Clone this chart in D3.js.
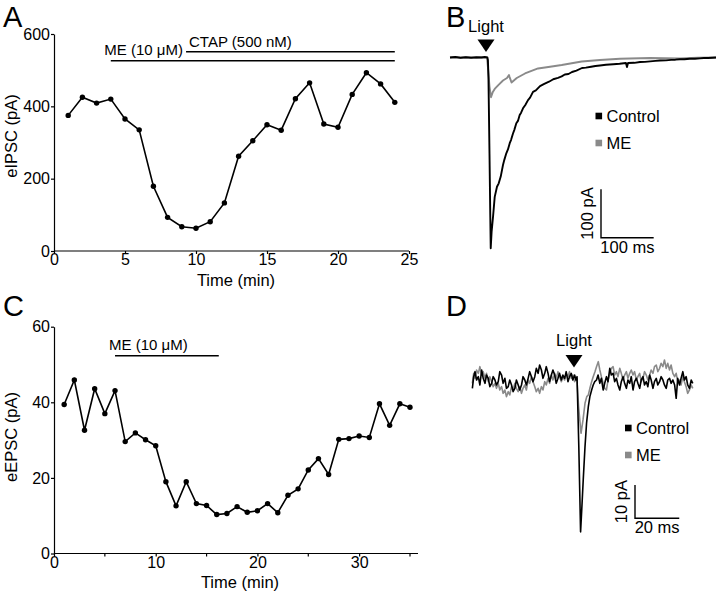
<!DOCTYPE html>
<html><head><meta charset="utf-8">
<script src="https://cdn.jsdelivr.net/npm/d3@7"></script>
<style>
body{margin:0;background:#fff;}
svg{display:block;font-family:"Liberation Sans",Arial,sans-serif;}
.axis path,.axis line{stroke:#000;stroke-width:1.2;}
.axis text{font-size:16px;fill:#000;}
</style></head>
<body>
<svg id="fig" width="720" height="593"></svg>
<script>
// ---------- DATA ----------
// Panel A: eIPSC (pA) vs time (min)
const timeA = [1,2,3,4,5,6,7,8,9,10,11,12,13,14,15,16,17,18,19,20,21,22,23,24];
const eIPSC = [375,425,409,420,365,335,179,93,67,63,81,133,262,305,349,334,421,465,351,342,433,493,462,411];
const ticksAx = [0,5,10,15,20,25];
const ticksAy = [0,200,400,600];
const drugsA = [{label:"ME (10 μM)", start:4, end:24, level:526},
                {label:"CTAP (500 nM)", start:9.3, end:24, level:551}];

// Panel C: eEPSC (pA) vs time (min)
const timeC = [1,2,3,4,5,6,7,8,9,10,11,12,13,14,15,16,17,18,19,20,21,22,23,24,25,26,27,28,29,30,31,32,33,34,35];
const eEPSC = [39.4,45.9,32.6,43.6,37.0,43.1,29.6,31.9,30.1,28.5,19.0,12.6,19.0,13.2,12.7,10.3,10.6,12.4,10.9,11.3,13.2,10.8,15.4,17.1,22.1,25.1,20.9,30.2,30.4,31.1,30.7,39.6,33.9,39.6,38.7];
const ticksCx = [0,10,20,30];
const minorCx = [5,15,25,35];
const ticksCy = [0,20,40,60];
const drugsC = [{label:"ME (10 μM)", start:6, end:16.2, level:52.3}];

// Panel B: eIPSC traces, time (ms) and current (pA)
const traceB_control_t = [0,10,20,30,40,50,60,66,71,72,73,75,76.5,77.3,79,81.7,84.9,89.2,92.5,96.3,100.6,103,106.9,110,113.4,116,119.6,122,125.9,129,132.3,135,138.6,143,148.1,152,157.6,163,170.9,178,188,196,205,212,218,225,231.6,240,250.6,258,268,276,284.8,296,310,322,334,336,338,350,360.7,370,380,390,398.7,410,420,428,436.7,445,455,465,474.7,482,490,498,505];
const traceB_control_i = [0,1,-0.5,0.5,-0.5,0.5,0,1,0,-5,-40,-200,-330,-394,-360,-329,-288,-267,-260,-246,-222,-212,-198,-190,-177,-170,-157,-150,-136,-131,-119,-114,-105,-98,-88,-83,-71,-68,-59,-55,-50,-45,-42,-39,-35,-34,-30,-27,-21.7,-21,-19,-17.5,-16.5,-15,-14,-13,-11.4,-19.6,-11.4,-11,-9.3,-9,-8,-7,-6.2,-6,-5,-4.5,-3.7,-3.5,-2.5,-2.5,-1.7,-1,-1,-0.5,0];
const traceB_me_t = [0,10,20,30,40,50,60,66,70.2,72,75,77.8,81,84.9,91.7,100.6,108.2,111,112,113,116.8,126.7,142.4,167.1,190,212.1,250.1,284.8,322.7,379.7,436.7,470,505];
const traceB_me_i = [0,0.5,-0.5,0.5,0,-0.5,0.5,0,0,-20,-60,-82,-72,-65,-57,-47.5,-42.4,-38,-36.2,-40,-51.7,-42.4,-33,-22.7,-19,-15.5,-8.3,-5.2,-2.7,-1,-2,-0.5,0];
const scaleB = {ms:100, pA:100};

// Panel D: eEPSC traces, time (ms) and current (pA)
const traceD_control_t = [0.3,0.9,1.5,2.2,3,3.7,4.5,5.2,6,6.7,7.5,8.2,9,9.7,10.5,11.2,12,12.7,13.5,14.2,15,15.7,16.5,17.2,18,18.7,19.5,20.2,21,21.7,22.5,23.2,24,24.7,25.5,26.2,27,27.7,28.5,29.2,30,30.7,31.5,32.2,33,33.7,34.5,35.2,36,36.7,37.5,38.2,39,39.7,40.5,41.2,42,42.7,43.5,44.2,45,45.7,46.5,47.1,47.6,48.4,49.2,49.8,50.4,51.2,51.9,52.7,53.4,54.2,54.9,55.6,56.4,57.1,57.9,58.6,59.4,60.1,60.9,61.6,62.4,63.1,63.9,64.6,65.4,66.1,66.9,67.6,68.4,69.1,69.9,70.6,71.4,72.1,72.9,73.6,74.4,75.1,75.9,76.6,77.4,78.1,78.9,79.6,80.4,81.1,81.9,82.6,83.4,84.1,84.9,85.6,86.4,87.1,87.9,88.6,89.4,90.1,90.9,91.7,92.4,93.1,93.9,94.6,95.4,96.1,96.9,97.6,98.4,99.2,99.9];
const traceD_control_i = [-2.5,1,2.5,0,1,-1.5,3,0.5,-1,1.5,0.5,-2,-1,1,0,-1.5,-0.5,2.5,1.5,-1,0.5,-2.5,-2,0,-1.5,-3.5,-2.5,0,-1.5,-3,-1.5,1,0,-1.5,0.5,2.5,1,-0.5,1,3.5,2,4.5,3,0.5,2,4,2,-0.5,1.5,3,1.5,-1,0.5,2,0,1.5,0.5,2.5,-0.5,1,2,0,1.5,0,1,-20,-45.6,-38,-30,-20,-13,-8,-5,-3,-1.5,-0.5,0,1.5,-1,0.5,-3,-1,1,-0.5,3.5,1.5,2,-0.5,0.5,-1.5,-3,-0.5,1,-1,-2.5,0,-1,1,-3,-0.5,0.5,-1,-2.5,0,1,-1.5,-0.5,-2,1.5,0,-2.5,-0.5,0.5,-1.5,-0.5,1,0,-1.5,-2.5,0,0.5,-1,0,-1.5,-5.5,0.5,-1.5,0.5,2.5,0,1,-1.5,-2.5,0,-1];
const traceD_me_t = [0.3,0.9,1.5,2.2,3,3.7,4.5,5.2,6,6.7,7.5,8.2,9,9.7,10.5,11.2,12,12.7,13.5,14.2,15,15.7,16.5,17.2,18,18.7,19.5,20.2,21,21.7,22.5,23.2,24,24.7,25.5,26.2,27,27.7,28.5,29.2,30,30.7,31.5,32.2,33,33.7,34.5,35.2,36,36.7,37.5,38.2,39,39.7,40.5,41.2,42,42.7,43.5,44.2,45,45.7,46.5,47.5,48.3,49.4,50.3,51.2,52,52.7,53.4,54.2,54.9,55.7,56.4,57.2,57.9,58.6,59.4,60.1,60.9,61.6,62.4,63.1,63.9,64.6,65.4,66.1,66.9,67.6,68.4,69.1,69.9,70.6,71.4,72.1,72.9,73.6,74.4,75.1,75.9,76.6,77.4,78.1,78.9,79.6,80.4,81.1,81.9,82.6,83.4,84.1,84.9,85.6,86.4,87.1,87.9,88.6,89.4,90.1,90.9,91.7,92.4,93.1,93.9,94.6,95.4,96.1,96.9,97.6,98.4,99.2,99.9];
const traceD_me_i = [-1,2,0.5,3,2,4,1.5,2.5,0.5,2,-0.5,1,-0.5,-2,-1,-2.5,-1,-3,-2,-4,-3,-5,-3.5,-4.5,-2,-3,-1,-2.5,-3.5,-2,-4,-2.5,-1.5,-3,0,-1,1,-0.5,-2,-3.5,-2.5,-4,-2,-3,-0.5,-1.5,0.5,-1,1.5,0,2,0.5,2.5,1,-0.5,1,0,2,1,2.5,0.5,1.5,-0.5,0.5,-8,-16,-12,-7,-5,-4.5,-2.5,-0.5,1,2.5,4,5.5,3,1,-1,-2.5,-3,0,2,3.5,4,1.5,2.5,1,3.5,2,0,1.5,2.5,0.5,2,3,1.5,2.5,0,1,2,-0.5,0.5,2.5,1.5,0,1.5,3,2,4,4.5,2.5,3.5,5,4,6,3.5,5,3,4.5,2,1,2,-0.5,0,-1.5,1,-0.5,-2,-4,-3,-1.5,-2.5];
const scaleD = {ms:20, pA:10};

const legendLabels = ["Control","ME"];
const traceColors = {Control:"#000000", ME:"#8a8a8a"};

// ---------- DRAW ----------
const svg = d3.select("#fig");

function panelLetter(t,x,y){
  svg.append("text").attr("x",x).attr("y",y).attr("font-size",29).text(t);
}

function timeCourse(opt){
  const g = svg.append("g");
  const x = d3.scaleLinear().domain(opt.xdom).range(opt.xr);
  const y = d3.scaleLinear().domain(opt.ydom).range(opt.yr);
  const ax = g.append("g").attr("class","axis").attr("transform",`translate(0,${opt.yr[0]})`)
    .call(d3.axisBottom(x).tickValues(opt.xt).tickSize(3).tickPadding(0).tickSizeOuter(0));
  ax.select(".domain").attr("d",`M${opt.xr[0]},0H${opt.xend}`);
  if(opt.minor){
    ax.selectAll(".minor").data(opt.minor).enter().append("line").attr("class","minor")
      .attr("x1",d=>x(d)).attr("x2",d=>x(d)).attr("y1",0).attr("y2",3).attr("stroke","#000").attr("stroke-width",1.2);
  }
  g.append("g").attr("class","axis").attr("transform",`translate(${opt.xr[0]},0)`)
    .call(d3.axisLeft(y).tickValues(opt.yt).tickSize(3).tickPadding(1).tickSizeOuter(0));
  g.append("text").attr("x",opt.xlabX).attr("y",opt.xlabY).attr("text-anchor","middle").attr("font-size",16.5).text("Time (min)");
  g.append("text").attr("transform",`translate(${opt.ylabX},${opt.ylabY}) rotate(-90)`).attr("text-anchor","middle").attr("font-size",16.5).text(opt.ylab);
  const pts = opt.t.map((d,i)=>[d,opt.v[i]]);
  g.append("path").datum(pts).attr("fill","none").attr("stroke","#000").attr("stroke-width",1.6)
    .attr("d",d3.line().x(d=>x(d[0])).y(d=>y(d[1])));
  g.selectAll("circle.pt").data(pts).enter().append("circle").attr("class","pt")
    .attr("cx",d=>x(d[0])).attr("cy",d=>y(d[1])).attr("r",2.7).attr("fill","#000");
  opt.drugs.forEach((dr,i)=>{
    g.append("line").attr("x1",x(dr.start)).attr("x2",x(dr.end)).attr("y1",y(dr.level)).attr("y2",y(dr.level))
      .attr("stroke","#000").attr("stroke-width",1.4);
    const lp = opt.labelPos[i];
    g.append("text").attr("x",lp.x).attr("y",lp.y).attr("text-anchor",lp.anchor).attr("font-size",15).text(dr.label);
  });
}

timeCourse({xdom:[0,25], xr:[54,409], xend:409, ydom:[0,600], yr:[251,34], xt:ticksAx, yt:ticksAy,
  t:timeA, v:eIPSC, ylab:"eIPSC (pA)", ylabX:17, ylabY:136, xlabX:236, xlabY:286, drugs:drugsA,
  labelPos:[{x:183,y:55,anchor:"end"},{x:189,y:47,anchor:"start"}]});
timeCourse({xdom:[0,35], xr:[54,410], xend:418, ydom:[0,60], yr:[553.5,326.7], xt:ticksCx, yt:ticksCy, minor:minorCx,
  t:timeC, v:eEPSC, ylab:"eEPSC (pA)", ylabX:17, ylabY:437, xlabX:240, xlabY:588, drugs:drugsC,
  labelPos:[{x:109,y:350,anchor:"start"}]});

panelLetter("A",3,27);
panelLetter("B",446,27);
panelLetter("C",3,316);
panelLetter("D",446,316);

function tracePanel(opt){
  const g = svg.append("g");
  const x = d3.scaleLinear().domain(opt.xdom).range(opt.xr);
  const y = d3.scaleLinear().domain([0,-opt.ybar]).range([opt.y0, opt.y0 + opt.ybarPx]);
  const line = d3.line().x(d=>x(d[0])).y(d=>y(d[1]));
  opt.traces.forEach(tr=>{
    const pts = tr.t.map((d,i)=>[d,tr.i[i]]);
    g.append("path").datum(pts).attr("fill","none").attr("stroke",traceColors[tr.name])
      .attr("stroke-width",opt.lw).attr("stroke-linejoin","round").attr("d",line);
  });
  const lx = opt.lightX;
  g.append("text").attr("x",lx).attr("y",opt.lightTextY).attr("text-anchor","middle").attr("font-size",16.5).text("Light");
  g.append("path").attr("d",`M${lx-8.5},${opt.triTop}L${lx+8.5},${opt.triTop}L${lx},${opt.triTop+12.5}Z`).attr("fill","#000");
  legendLabels.forEach((lab,i)=>{
    const ly = opt.legY + i*opt.legDy;
    g.append("rect").attr("x",opt.legX).attr("y",ly-3.3).attr("width",6.6).attr("height",6.6).attr("fill",traceColors[lab]);
    g.append("text").attr("x",opt.legX+11).attr("y",ly+6).attr("font-size",16.5).text(lab);
  });
  const sbx = opt.sbX, sby = opt.sbY;
  const wpx = x(opt.xdom[0]+opt.sbMs)-x(opt.xdom[0]);
  const hpx = y(-opt.sbPa)-y(0);
  g.append("path").attr("d",`M${sbx},${sby-hpx}V${sby}H${sbx+wpx}`).attr("fill","none").attr("stroke","#000").attr("stroke-width",1.4);
  g.append("text").attr("transform",`translate(${sbx-8},${sby-hpx/2}) rotate(-90)`).attr("text-anchor","middle").attr("font-size",16.5).text(opt.sbPa+" pA");
  g.append("text").attr("x",sbx+wpx/2).attr("y",sby+15).attr("text-anchor","middle").attr("font-size",16.5).text(opt.sbMs+" ms");
}

tracePanel({xdom:[0,505], xr:[450,716], y0:57.5, ybar:400, ybarPx:193.6, lw:1.9,
  traces:[{name:"ME",t:traceB_me_t,i:traceB_me_i},{name:"Control",t:traceB_control_t,i:traceB_control_i}],
  lightX:486, lightTextY:32, triTop:39.5, legX:595.5, legY:116, legDy:27,
  sbX:601, sbY:237.7, sbMs:scaleB.ms, sbPa:scaleB.pA});

tracePanel({xdom:[0,100], xr:[471.7,693], y0:380, ybar:10, ybarPx:33.3, lw:1.6,
  traces:[{name:"ME",t:traceD_me_t,i:traceD_me_i},{name:"Control",t:traceD_control_t,i:traceD_control_i}],
  lightX:574, lightTextY:346, triTop:355, legX:625, legY:428, legDy:27,
  sbX:635, sbY:518.3, sbMs:scaleD.ms, sbPa:scaleD.pA});
</script>
</body></html>
